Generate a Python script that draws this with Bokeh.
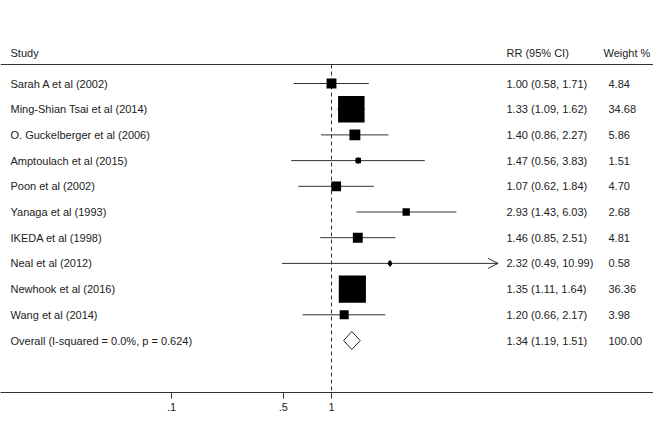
import math
from bokeh.plotting import figure
from bokeh.models import ColumnDataSource, Range1d, FixedTicker, Arrow, OpenHead
from bokeh.core.properties import value
from bokeh.embed import file_html
from bokeh.resources import INLINE

# ---- data ----
studies = ["Sarah A et al  (2002)", "Ming-Shian Tsai et al (2014)", "O. Guckelberger et al (2006)",
           "Amptoulach et al  (2015)", "Poon et al (2002)", "Yanaga et al (1993)", "IKEDA et al  (1998)",
           "Neal et al (2012)", "Newhook et al (2016)", "Wang et al (2014)"]
rr = [1.00, 1.33, 1.40, 1.47, 1.07, 2.93, 1.46, 2.32, 1.35, 1.20]
lower = [0.58, 1.09, 0.86, 0.56, 0.62, 1.43, 0.85, 0.49, 1.11, 0.66]
upper = [1.71, 1.62, 2.27, 3.83, 1.84, 6.03, 2.51, 10.99, 1.64, 2.17]
weight = [4.84, 34.68, 5.86, 1.51, 4.70, 2.68, 4.81, 0.58, 36.36, 3.98]
overall_label = "Overall  (I-squared = 0.0%, p = 0.624)"
overall_rr = 1.34
overall_lo = 1.19
overall_hi = 1.51
overall_weight = 100.00
tick_values = [0.1, 0.5, 1]
tick_labels = [".1", ".5", "1"]
header_study = "Study"
header_rr = "RR (95% CI)"
header_w = "Weight %"
arrow_limit = 10

# ---- layout helpers ----
W, H = 653, 414
FRAME_H = 392
PX_PER_DEC = 160.0
X1_PX = 331.0          # canvas px of value 1
ROW0_PX = 83.0         # canvas px of first row
ROW_STEP = 25.7


def px2val(px):
    return 10 ** ((px - X1_PX) / PX_PER_DEC)


def py2row(py):
    return (py - ROW0_PX) / ROW_STEP


FONT = "Liberation Sans"
FS = "11px"
TXT = "#222222"

p = figure(width=W, height=H, output_backend="svg", toolbar_location=None,
           x_axis_type="log",
           x_range=Range1d(px2val(0), px2val(W)),
           y_range=Range1d(py2row(FRAME_H), py2row(0)),
           min_border_left=0, min_border_right=0, min_border_top=0,
           min_border_bottom=H - FRAME_H)
p.outline_line_color = None
p.grid.visible = False
p.yaxis.visible = False
p.background_fill_color = "white"
p.border_fill_color = "white"

ax = p.xaxis[0]
ax.ticker = FixedTicker(ticks=tick_values)
ax.major_label_overrides = {v: l for v, l in zip(tick_values, tick_labels)}
ax.minor_tick_line_color = None
ax.major_tick_in = 0
ax.major_tick_out = 6
ax.axis_line_color = "#333333"
ax.major_tick_line_color = "#333333"
ax.major_label_text_font = FONT
ax.major_label_text_font_size = FS
ax.major_label_text_color = TXT
ax.major_label_standoff = 4

n = len(studies)
rows = list(range(n))
src = ColumnDataSource(dict(
    y=rows, rr=rr, lo=lower, hi=upper,
    size=[4.5 * math.sqrt(w) for w in weight],
    study=studies,
    ci=[f"{a:.2f} ({b:.2f}, {c:.2f})" for a, b, c in zip(rr, lower, upper)],
    w=[f"{w:.2f}" for w in weight],
))

# header line and null line
header_row = py2row(52)
line_row = py2row(64)
p.segment(x0=px2val(0), x1=px2val(W), y0=line_row, y1=line_row, line_color="#333333", line_width=1)
p.segment(x0=1, x1=1, y0=line_row, y1=py2row(FRAME_H), line_color="#333333",
          line_width=1, line_dash="4 3")

# CI lines
p.segment(x0="lo", x1="hi", y0="y", y1="y", source=src, line_color="#333333", line_width=1)
for i in rows:
    if upper[i] > arrow_limit:
        p.add_layout(Arrow(end=OpenHead(size=10, line_width=1, line_color="#333333"),
                           x_start=lower[i], x_end=upper[i], y_start=i, y_end=i,
                           line_alpha=0))

# weight boxes and point markers
p.scatter(x="rr", y="y", size="size", marker="square", source=src,
          fill_color="black", line_color=None)
p.scatter(x="rr", y="y", size=6, marker="diamond", source=src,
          fill_color="black", line_color="black")

# overall diamond
h = 9.0 / ROW_STEP
oy = n
p.patch(x=[overall_lo, overall_rr, overall_hi, overall_rr],
        y=[oy, oy - h, oy, oy + h], fill_color="white", line_color="#222222", line_width=1)

# texts
x_study = px2val(10)
x_ci = px2val(506)
x_w = px2val(608)
x_wh = px2val(603)
common = dict(text_font_size=FS, text_color=TXT, text_baseline="middle", text_align="left",
              text_font=value(FONT))
p.text(x=x_study, y="y", text="study", source=src, **common)
p.text(x=x_ci, y="y", text="ci", source=src, **common)
p.text(x=x_w, y="y", text="w", source=src, **common)
p.text(x=[x_study, x_ci, x_wh], y=[header_row] * 3, text=[header_study, header_rr, header_w], **common)
p.text(x=[x_study, x_ci, x_w], y=[oy] * 3,
       text=[overall_label, f"{overall_rr:.2f} ({overall_lo:.2f}, {overall_hi:.2f})", f"{overall_weight:.2f}"],
       **common)

open("out.html", "w").write(file_html(p, INLINE))
